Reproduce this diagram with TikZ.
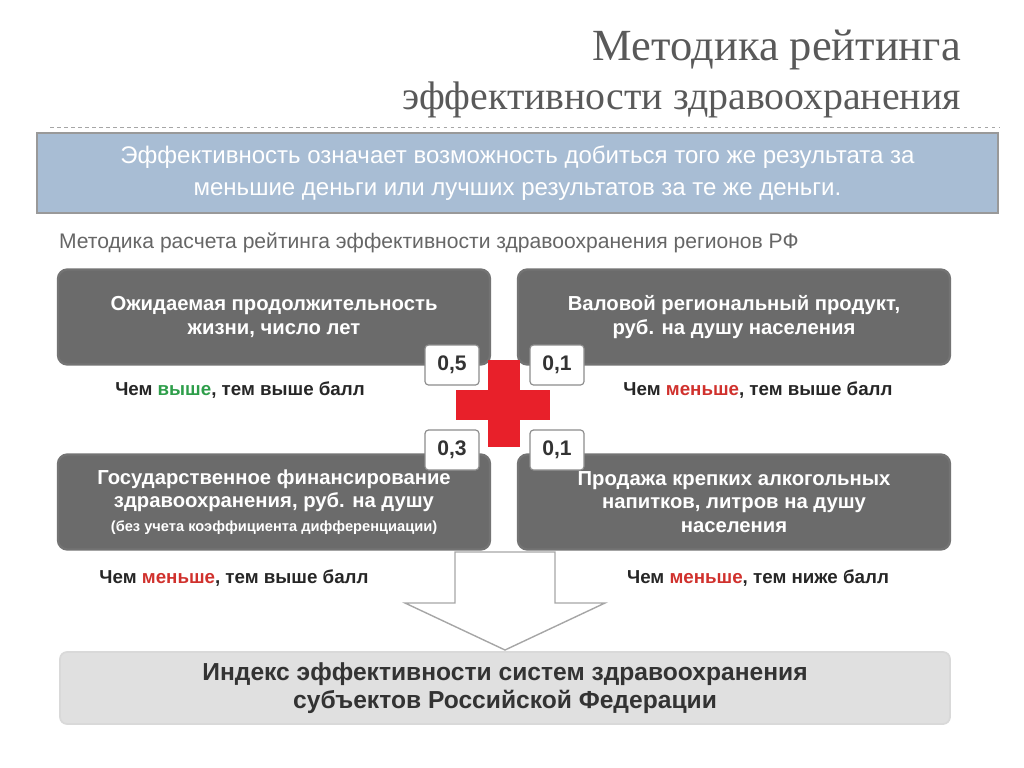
\documentclass[tikz,border=0pt]{standalone}
\usepackage{fontspec}
\setmainfont{Liberation Sans}
\newfontfamily\titlefont{Liberation Serif}
\usetikzlibrary{positioning}
\definecolor{boxgrey}{HTML}{6B6B6B}
\definecolor{bluebox}{HTML}{A8BDD4}
\definecolor{crossred}{HTML}{E8202A}
\definecolor{upgreen}{HTML}{2E9E4A}
\definecolor{downred}{HTML}{D0312D}
\tikzset{
  factor/.style={draw=black!55, line width=2pt, fill=boxgrey, rounded corners=8pt,
    minimum width=432\pxu, minimum height=95\pxu, text=white, align=center,
    font=\fontsize{17.3}{20}\selectfont\bfseries},
  weight/.style={draw=black!45, line width=1pt, fill=white, rounded corners=3pt,
    minimum width=54\pxu, minimum height=40\pxu, font=\fontsize{18}{20}\selectfont\bfseries, text=black!80},
  rule/.style={font=\fontsize{16}{18}\selectfont\bfseries, text=black!85}
}
\newlength{\pxu}
\setlength{\pxu}{0.3mm}
\begin{document}
\begin{tikzpicture}[x=\pxu, y=-\pxu]
\useasboundingbox (0,0) rectangle (1024,767);
% title
\node[anchor=east, text=black!65, font=\titlefont\fontsize{38}{40}\selectfont] (title1) at (965,50) {Методика рейтинга};
\node[anchor=east, text=black!65, font=\titlefont\fontsize{34}{36}\selectfont] (title2) at (965,100) {эффективности здравоохранения};
\draw[black!35, dashed] (50,127) -- (1000,127);
% definition
\node[draw=black!40, fill=bluebox, line width=1pt, minimum width=961\pxu, minimum height=80\pxu,
  text=white, align=center, font=\fontsize{20.5}{27}\selectfont] (def) at (517.5,173)
  {Эффективность означает возможность добиться того же результата за\\меньшие деньги или лучших результатов за те же деньги.};
\node[anchor=west, text=black!60, font=\fontsize{18}{20}\selectfont] (sub) at (55,243)
  {Методика расчета рейтинга эффективности здравоохранения регионов РФ};
% factors
\node[factor] (life) at (274,317) {Ожидаемая продолжительность\\жизни, число лет};
\node[factor] (grp) at (734,317) {Валовой региональный продукт,\\руб. на душу населения};
\node[factor] (fin) at (274,502) {Государственное финансирование\\здравоохранения, руб. на душу\\{\fontsize{12.5}{14}\selectfont(без учета коэффициента дифференциации)}};
\node[factor] (alc) at (734,502) {Продажа крепких алкогольных\\напитков, литров на душу\\населения};
% cross
\fill[crossred] (456,390) rectangle (550,420);
\fill[crossred] (488,360) rectangle (520,447);
% weights
\node[weight] (w1) at (452,365) {0,5};
\node[weight] (w2) at (557,365) {0,1};
\node[weight] (w3) at (452,450) {0,3};
\node[weight] (w4) at (557,450) {0,1};
% rules
\node[rule] (r1) at (240,390) {Чем \textcolor{upgreen}{выше}, тем выше балл};
\node[rule] (r2) at (758,390) {Чем \textcolor{downred}{меньше}, тем выше балл};
\node[rule] (r3) at (234,578) {Чем \textcolor{downred}{меньше}, тем выше балл};
\node[rule] (r4) at (758,578) {Чем \textcolor{downred}{меньше}, тем ниже балл};
% arrow
\draw[black!35, fill=white, line width=1.2pt] (455,552) -- (555,552) -- (555,603) -- (605,603)
  -- (505,650) -- (405,603) -- (455,603) -- cycle;
% index
\node[draw=black!15, line width=1.5pt, fill=black!12, rounded corners=6pt, minimum width=890\pxu,
  minimum height=72\pxu, align=center, text=black!80, font=\fontsize{21}{24}\selectfont\bfseries]
  (index) at (505,688) {Индекс эффективности систем здравоохранения\\субъектов Российской Федерации};
\end{tikzpicture}
\end{document}
